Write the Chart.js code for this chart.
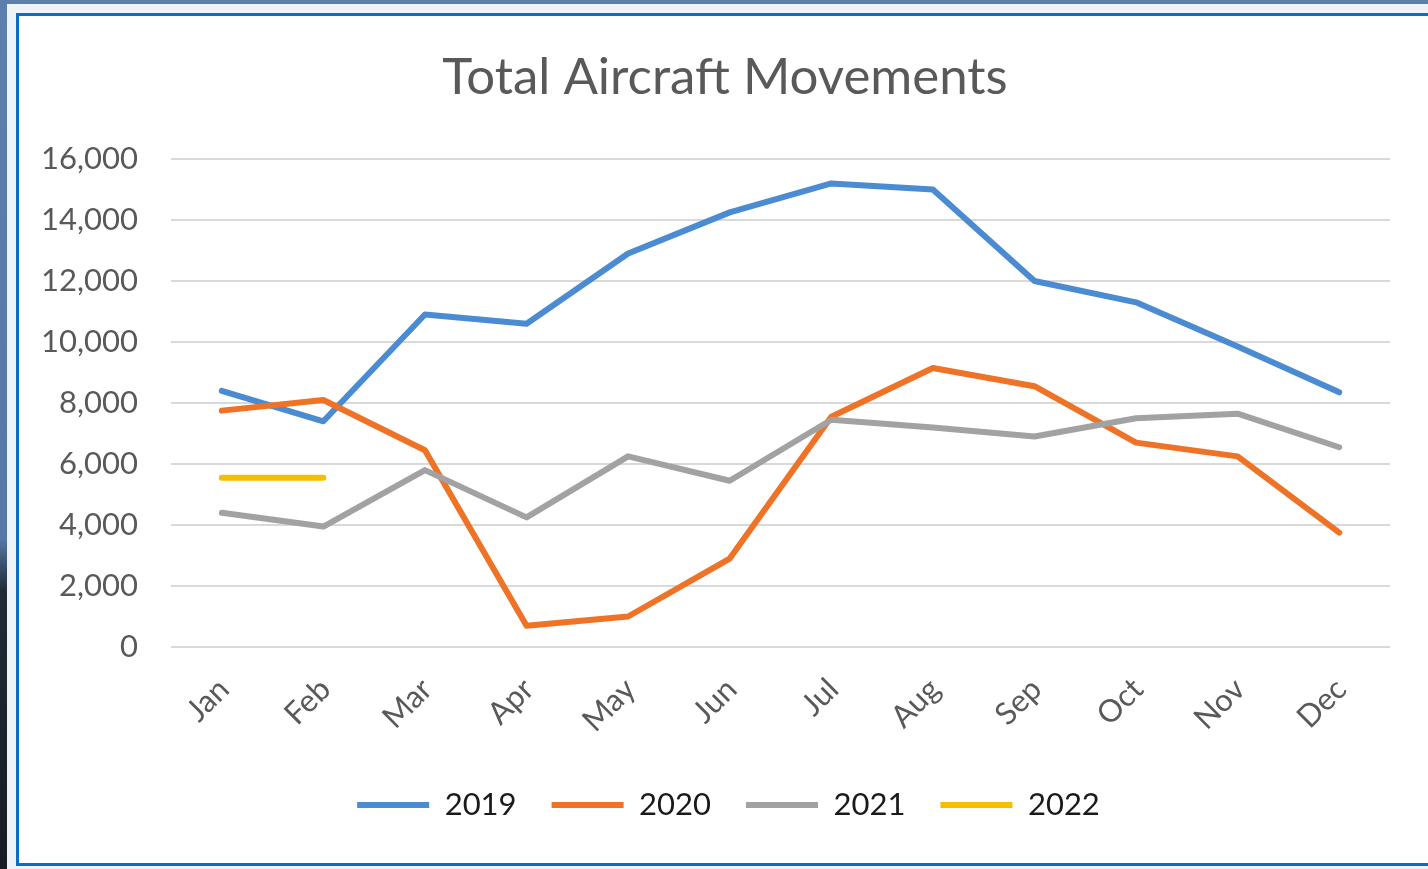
<!DOCTYPE html>
<html>
<head>
<meta charset="utf-8">
<title>Total Aircraft Movements</title>
<script src="https://cdn.jsdelivr.net/npm/chart.js@4/dist/chart.umd.min.js"></script>
<style>
  html, body { margin: 0; padding: 0; }
  body {
    width: 1428px; height: 869px; overflow: hidden; position: relative;
    background: linear-gradient(to bottom, #5c80ab 0%, #5579a4 62%, #1f2a36 68%, #161c24 100%);
  }
  .sheet { position: absolute; left: 7px; top: 4px; right: 0; bottom: 0; background: #eef3f8; }
  .frame {
    position: absolute; left: 16px; top: 13px; width: 1420px; height: 847px;
    border: 3px solid #0b6cc6; background: #fff;
  }
  .plot { position: absolute; left: 0; top: 0; width: 1409px; height: 847px; }
</style>
</head>
<body>
<div class="sheet"></div>
<div class="frame">
  <div class="plot"><canvas id="movementsChart"></canvas></div>
</div>
<script>
const months = ['Jan', 'Feb', 'Mar', 'Apr', 'May', 'Jun', 'Jul', 'Aug', 'Sep', 'Oct', 'Nov', 'Dec'];
const years = ['2019', '2020', '2021', '2022'];

const movements2019 = [8400, 7400, 10900, 10600, 12900, 14250, 15200, 15000, 12000, 11300, 9850, 8350];
const movements2020 = [7750, 8100, 6450, 700, 1000, 2900, 7550, 9150, 8550, 6700, 6250, 3750];
const movements2021 = [4400, 3950, 5800, 4250, 6250, 5450, 7450, 7200, 6900, 7500, 7650, 6550];
const movements2022 = [5550, 5550];

const yTicks = [0, 2000, 4000, 6000, 8000, 10000, 12000, 14000, 16000];
const lineColours = ['#4a8bd2', '#ee7326', '#a2a2a2', '#f7be00'];

const series = [movements2019, movements2020, movements2021, movements2022];
const fontFamily = 'Lato, "Open Sans", sans-serif';

// title and legend are centred on the whole frame, not on the plot area
const centreOnFrame = {
  id: 'centreOnFrame',
  afterLayout(chart) {
    chart.titleBlock.left += 10.5;
    chart.titleBlock.right += 10.5;
    chart.legend.left += 14;
    chart.legend.right += 14;
  }
};

const ctx = document.getElementById('movementsChart').getContext('2d');
const chart = new Chart(ctx, {
  type: 'line',
  data: {
    labels: months,
    datasets: series.map((values, i) => ({
      label: years[i],
      data: values,
      borderColor: lineColours[i],
      backgroundColor: lineColours[i],
      pointBorderColor: lineColours[i],
      borderWidth: 6,
      pointBorderWidth: 6,
      pointRadius: 0,
      pointHoverRadius: 0,
      tension: 0,
      fill: false,
      borderJoinStyle: 'round',
      borderCapStyle: 'round',
      order: series.length - i // later years sit on top
    }))
  },
  options: {
    responsive: true,
    maintainAspectRatio: false,
    animation: false,
    layout: { padding: { left: 20, right: 38, top: 0, bottom: 32.5 } },
    scales: {
      x: {
        offset: true,
        grid: { display: false },
        border: { display: false },
        ticks: {
          color: '#595959',
          font: { family: fontFamily, size: 31 },
          minRotation: 45,
          maxRotation: 45,
          autoSkip: false,
          padding: 16,
          labelOffset: 2
        },
        afterFit: (scale) => { scale.height = 107.5; }
      },
      y: {
        min: 0,
        max: 16000,
        grid: { color: '#d9d9d9', lineWidth: 2, drawTicks: false },
        border: { display: false },
        afterBuildTicks: (scale) => { scale.ticks = yTicks.map(v => ({ value: v })); },
        ticks: {
          color: '#595959',
          font: { family: fontFamily, size: 31 },
          padding: 33,
          callback: (v) => v.toLocaleString('en-US')
        },
        afterFit: (scale) => { scale.width = 132; }
      }
    },
    plugins: {
      title: {
        display: true,
        text: 'Total Aircraft Movements',
        color: '#595959',
        font: { family: fontFamily, size: 51, weight: 'normal' },
        padding: { top: 31.4, bottom: 50.4 }
      },
      legend: {
        position: 'bottom',
        labels: {
          usePointStyle: true,
          pointStyle: 'line',
          pointStyleWidth: 72,
          color: '#1a1a1a',
          font: { family: fontFamily, size: 31 },
          padding: 35,
          sort: (a, b) => a.datasetIndex - b.datasetIndex
        }
      },
      tooltip: { enabled: false }
    }
  },
  plugins: [centreOnFrame]
});
</script>
</body>
</html>
